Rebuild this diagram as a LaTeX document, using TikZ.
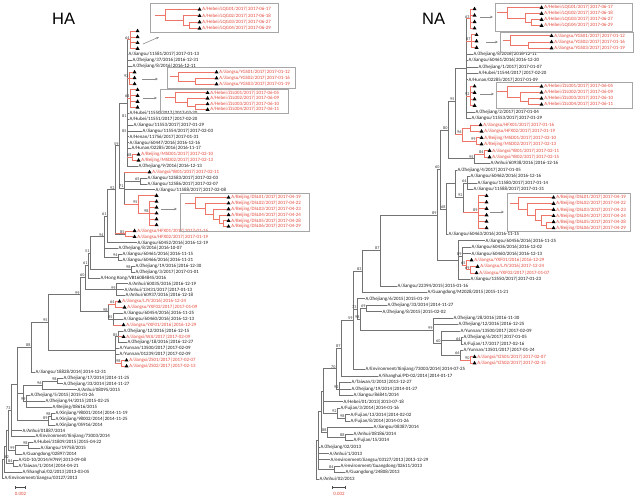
\documentclass[tikz,border=0pt]{standalone}
\usepackage{fontspec}
\usepackage{xcolor}
\usetikzlibrary{arrows.meta}
\usetikzlibrary{positioning, calc, shapes.geometric}
\newfontfamily\labfont{Carlito}
\newfontfamily\headfont{Liberation Sans}
\definecolor{hlred}{RGB}{228,72,58}
\definecolor{hlpink}{RGB}{238,118,104}
\newcommand{\labsize}{\labfont\fontsize{4.9}{5.4}\selectfont}
\newcommand{\bssize}{\labfont\fontsize{4.2}{4.6}\selectfont}
% clade point: name, x, first child, last child
\newcommand{\clade}[4]{\path let \p1=($(#3)!.5!(#4)$) in coordinate (#1) at (#2pt,\y1);}
% branches from a clade point to its children
\newcommand{\kids}[3]{\foreach \kidname in {#3}{\draw[#1] (#2) |- (\kidname);}}
\newcommand{\rkids}[2]{\foreach \kidname in {#2}{\draw[br] (#1) |- coordinate[pos=0.5] (kc) (\kidname); \draw[rbr] (kc) -- (\kidname);}}
\tikzset{
	lab/.style={font=\labsize, anchor=west, inner sep=0.5pt, text=black!90},
	rlab/.style={lab, text=hlred},
	tri/.style={regular polygon, regular polygon sides=3, fill=black, inner sep=0pt, minimum size=4.6pt, anchor=west},
	br/.style={draw=black!55, line width=0.7pt},
	rbr/.style={draw=hlpink, line width=0.8pt},
	bs/.style={font=\bssize, anchor=south east, inner sep=0.4pt, text=black!80},
	clbox/.style={draw=black!35, line width=1pt, anchor=north west, inner sep=0pt},
	arr/.style={draw=black!45, line width=0.6pt, -{Stealth[length=3pt,width=2.6pt]}},
	headtxt/.style={font=\headfont\fontsize{16.5}{18}\selectfont, anchor=west, inner sep=0pt},
	sbar/.style={draw=black!70, line width=0.6pt, {Bar[width=3pt]}-{Bar[width=3pt]}},
	sclab/.style={font=\labsize, text=hlred, inner sep=0pt}
}
\begin{document}
\begin{tikzpicture}[x=1pt, y=-1pt]
	\useasboundingbox (0,0) rectangle (635,499);
	\fill[white] (0,0) rectangle (635,499);
	
	%titles
	\node[headtxt] (haTitle) at (52,19) {HA};
	\node[headtxt] (naTitle) at (422,19) {NA};
	
	%%%%%%%%%% HA tree %%%%%%%%%%
	%HA leaves
	\node[tri] (a1) at (136,31.0) {};
	\node[tri] (a2) at (136,36.9) {};
	\node[tri] (a3) at (136,42.8) {};
	\node[tri] (a4) at (136,48.6) {};
	\node[lab] (a5) at (128,54.5) {A/Jiangsu/11581/2017|2017-01-13};
	\node[lab] (a6) at (132,60.4) {A/Zhejiang/37/2016|2016-12-31};
	\node[lab] (a7) at (132,66.3) {A/Zhejiang/8/2016|2016-12-11};
	\node[tri] (a8) at (133,72.2) {};
	\node[tri] (a9) at (133,78.0) {};
	\node[tri] (a10) at (133,83.9) {};
	\node[tri] (a11) at (136,89.8) {};
	\node[tri] (a12) at (136,95.7) {};
	\node[tri] (a13) at (136,101.6) {};
	\node[tri] (a14) at (136,107.4) {};
	\node[lab] (a15) at (129,113.3) {A/Hubei/11550/2017|2017-02-20};
	\node[lab] (a16) at (129,119.2) {A/Hubei/11551/2017|2017-02-20};
	\node[lab] (a17) at (133,125.1) {A/Jiangsu/11553/2017|2017-01-29};
	\node[lab] (a18) at (142,131.0) {A/Jiangsu/11554/2017|2017-02-03};
	\node[lab] (a19) at (129,136.8) {A/Henan/11756/2017|2017-01-31};
	\node[lab] (a20) at (129,142.7) {A/Jiangsu/60447/2016|2016-12-16};
	\node[lab] (a21) at (131,148.6) {A/Hunan/02285/2016|2016-11-17};
	\node[tri] (a22) at (137,154.5) {};
	\node[rlab, right=0.6pt of a22] (ta22) {A/Beijing/MSD01/2017|2017-02-10};
	\node[tri] (a23) at (137,160.4) {};
	\node[rlab, right=0.6pt of a23] (ta23) {A/Beijing/MSD02/2017|2017-02-13};
	\node[lab] (a24) at (138,166.2) {A/Zhejiang/9/2016|2016-12-13};
	\node[tri] (a25) at (148,172.1) {};
	\node[rlab, right=0.6pt of a25] (ta25) {A/Jiangxi/YB01/2017|2017-02-11};
	\node[lab] (a26) at (147,178.0) {A/Jiangsu/12583/2017|2017-02-03};
	\node[lab] (a27) at (147,183.9) {A/Jiangsu/12586/2017|2017-02-07};
	\node[lab] (a28) at (155,189.8) {A/Jiangsu/11588/2017|2017-02-08};
	\node[tri] (a29) at (155,195.6) {};
	\node[tri] (a30) at (155,201.5) {};
	\node[tri] (a31) at (155,207.4) {};
	\node[tri] (a32) at (155,213.3) {};
	\node[tri] (a33) at (155,219.2) {};
	\node[tri] (a34) at (155,225.0) {};
	\node[tri] (a35) at (133,230.9) {};
	\node[rlab, right=0.6pt of a35] (ta35) {A/Jiangsu/HFX01/2017|2017-01-16};
	\node[tri] (a36) at (133,236.8) {};
	\node[rlab, right=0.6pt of a36] (ta36) {A/Jiangsu/HFX02/2017|2017-01-19};
	\node[lab] (a37) at (137,242.7) {A/Jiangsu/60452/2016|2016-12-19};
	\node[lab] (a38) at (118,248.6) {A/Zhejiang/8/2016|2016-10-07};
	\node[lab] (a39) at (122,254.4) {A/Jiangsu/60461/2016|2016-11-15};
	\node[lab] (a40) at (122,260.3) {A/Jiangsu/60466/2016|2016-11-21};
	\node[lab] (a41) at (135,266.2) {A/Zhejiang/19/2016|2016-12-30};
	\node[lab] (a42) at (135,272.1) {A/Zhejiang/3/2017|2017-01-01};
	\node[lab] (a43) at (100,278.0) {A/Hong Kong/VB16084845/2016};
	\node[lab] (a44) at (128,283.8) {A/Anhui/60035/2016|2016-12-19};
	\node[lab] (a45) at (124,289.7) {A/Anhui/13431/2017|2017-01-13};
	\node[lab] (a46) at (125,295.6) {A/Anhui/60937/2016|2016-12-18};
	\node[tri] (a47) at (118,301.5) {};
	\node[rlab, right=0.6pt of a47] (ta47) {A/Jiangsu/LJY/2016|2016-12-24};
	\node[tri] (a48) at (123,307.4) {};
	\node[rlab, right=0.6pt of a48] (ta48) {A/Jiangsu/YXF02/2017|2017-01-09};
	\node[lab] (a49) at (123,313.2) {A/Jiangsu/60454/2016|2016-11-25};
	\node[lab] (a50) at (123,319.1) {A/Jiangsu/60460/2016|2016-12-13};
	\node[tri] (a51) at (122,325.0) {};
	\node[rlab, right=0.6pt of a51] (ta51) {A/Jiangsu/YXF01/2016|2016-12-29};
	\node[lab] (a52) at (123,330.9) {A/Zhejiang/12/2016|2016-12-15};
	\node[tri] (a53) at (122,336.8) {};
	\node[rlab, right=0.6pt of a53] (ta53) {A/Jiangxi/WJJ/2017|2017-02-09};
	\node[lab] (a54) at (127,342.6) {A/Zhejiang/18/2016|2016-12-27};
	\node[lab] (a55) at (119,348.5) {A/Yunnan/13500/2017|2017-02-09};
	\node[lab] (a56) at (119,354.4) {A/Yunnan/01239/2017|2017-02-09};
	\node[tri] (a57) at (125,360.3) {};
	\node[rlab, right=0.6pt of a57] (ta57) {A/Jiangxi/ZS01/2017|2017-02-07};
	\node[tri] (a58) at (125,366.2) {};
	\node[rlab, right=0.6pt of a58] (ta58) {A/Jiangxi/ZS02/2017|2017-02-13};
	\node[lab] (a59) at (35,372.0) {A/Jiangsu/18828/2014|2014-12-31};
	\node[lab] (a60) at (63,377.9) {A/Zhejiang/17/2014|2014-11-25};
	\node[lab] (a61) at (63,383.8) {A/Zhejiang/33/2014|2014-11-27};
	\node[lab] (a62) at (77,389.7) {A/Anhui/08095/2015};
	\node[lab] (a63) at (30,395.6) {A/Zhejiang/5/2015|2015-01-26};
	\node[lab] (a64) at (45,401.4) {A/Zhejiang/H/2015|2015-02-25};
	\node[lab] (a65) at (52,407.3) {A/Beijing/08616/2015};
	\node[lab] (a66) at (55,413.2) {A/Xinjiang/98001/2014|2014-11-19};
	\node[lab] (a67) at (55,419.1) {A/Xinjiang/98002/2014|2014-11-25};
	\node[lab] (a68) at (55,425.0) {A/Xinjiang/05916/2014};
	\node[lab] (a69) at (22,430.8) {A/Anhui/01887/2014};
	\node[lab] (a70) at (35,436.7) {A/Environment/Xinjiang/73003/2014};
	\node[lab] (a71) at (33,442.6) {A/Hubei/31809/2015|2015-04-22};
	\node[lab] (a72) at (40,448.5) {A/Jiangsu/19758/2015};
	\node[lab] (a73) at (22,454.4) {A/Guangdong/02897/2014};
	\node[lab] (a74) at (18,460.2) {A/GD-10/2014/H7N9|2013-09-08};
	\node[lab] (a75) at (18,466.1) {A/Taiwan/1/2014|2014-04-21};
	\node[lab] (a76) at (22,472.0) {A/Shanghai/02/2013|2013-03-05};
	\node[lab] (a77) at (4,477.9) {A/Environment/Jiangsu/03127/2013};
	
	%HA clades
	\clade{aLQG}{130}{a1}{a4}
	\clade{aYGS}{129}{a8}{a10}
	\clade{aZJL}{130}{a11}{a14}
	\clade{aMSD}{132}{a22}{a23}
	\clade{aSpine}{127}{aLQG}{a24}
	\clade{aP65}{140}{a26}{a27}
	\clade{aDSLb}{149}{a30}{a34}
	\clade{aDSL}{138}{a29}{aDSLb}
	\clade{aP71}{124}{a25}{aDSL}
	\clade{aP59}{119}{aSpine}{aP71}
	\clade{aHFX}{125}{a35}{a36}
	\clade{aP92}{115}{aP59}{aHFX}
	\clade{aP61}{107}{aP92}{a37}
	\clade{aP94b}{118}{a39}{a40}
	\clade{aP94}{104}{aP61}{aP94b}
	\clade{aP98}{131}{a41}{a42}
	\clade{aP51}{90}{aP94}{aP98}
	\clade{aP61b}{88}{aP51}{a43}
	\clade{aAnh}{116}{a44}{a46}
	\clade{aP60}{85}{aP61b}{aAnh}
	\clade{aLJY}{115}{a47}{a48}
	\clade{aP85}{113}{a49}{a51}
	\clade{aP98b}{108}{aLJY}{aP85}
	\clade{aP99}{80}{aP60}{aP98b}
	\clade{aZS}{121}{a57}{a58}
	\clade{aZ18}{118}{a52}{a54}
	\clade{aZY}{115}{aZ18}{aZS}
	\clade{aP95}{48}{aP99}{aZY}
	\clade{aP88}{31}{aP95}{a59}
	\clade{aZ17}{57}{a60}{a61}
	\clade{aP96}{42}{aZ17}{a62}
	\clade{aP99c}{26}{a63}{a65}
	\clade{aG1}{23}{aP96}{aP99c}
	\clade{aX1}{51}{a66}{a67}
	\clade{aX2}{48}{aX1}{a68}
	\clade{aG2}{17}{aP88}{aX2}
	\clade{aP73}{11}{aG2}{a70}
	\clade{aH1}{28}{a71}{a72}
	\clade{aP99d}{15}{aH1}{a73}
	\clade{aG3}{8}{aP73}{aP99d}
	\clade{aP84}{13}{a74}{a75}
	\clade{aG4}{6}{aG3}{aP84}
	\clade{aP82}{4}{aG4}{a76}
	\clade{aRoot}{2}{aP82}{a77}
	
	%HA branches
	\kids{rbr}{aLQG}{a1,a2,a3,a4}
	\kids{rbr}{aYGS}{a8,a9,a10}
	\kids{rbr}{aZJL}{a11,a12,a13,a14}
	\kids{rbr}{aMSD}{a22,a23}
	\kids{br}{aSpine}{a5,a6,a7,a15,a16,a17,a18,a19,a20,a21,a24}
	\rkids{aSpine}{aLQG,aYGS,aZJL,aMSD}
	\kids{br}{aP65}{a26,a27}
	\kids{rbr}{aDSLb}{a30,a31,a32,a33,a34}
	\kids{rbr}{aDSL}{a29,aDSLb}
	\kids{br}{aP71}{aP65,a28}
	\rkids{aP71}{a25,aDSL}
	\kids{br}{aP59}{aSpine,aP71}
	\kids{rbr}{aHFX}{a35,a36}
	\kids{br}{aP92}{aP59}
	\rkids{aP92}{aHFX}
	\kids{br}{aP61}{aP92,a37}
	\kids{br}{aP94b}{a39,a40}
	\kids{br}{aP94}{aP61,a38,aP94b}
	\kids{br}{aP98}{a41,a42}
	\kids{br}{aP51}{aP94,aP98}
	\kids{br}{aP61b}{aP51,a43}
	\kids{br}{aAnh}{a44,a45,a46}
	\kids{br}{aP60}{aP61b,aAnh}
	\kids{rbr}{aLJY}{a47,a48}
	\kids{br}{aP85}{a49,a50}
	\rkids{aP85}{a51}
	\kids{br}{aP98b}{aP85}
	\rkids{aP98b}{aLJY}
	\kids{br}{aP99}{aP60,aP98b}
	\kids{rbr}{aZS}{a57,a58}
	\kids{br}{aZ18}{a52,a54}
	\rkids{aZ18}{a53}
	\kids{br}{aZY}{aZ18,a55,a56}
	\rkids{aZY}{aZS}
	\kids{br}{aP95}{aP99,aZY}
	\kids{br}{aP88}{aP95,a59}
	\kids{br}{aZ17}{a60,a61}
	\kids{br}{aP96}{aZ17,a62}
	\kids{br}{aP99c}{a63,a64,a65}
	\kids{br}{aG1}{aP96,aP99c}
	\kids{br}{aX1}{a66,a67}
	\kids{br}{aX2}{aX1,a68}
	\kids{br}{aG2}{aP88,aG1,aX2}
	\kids{br}{aP73}{aG2,a69,a70}
	\kids{br}{aH1}{a71,a72}
	\kids{br}{aP99d}{aH1,a73}
	\kids{br}{aG3}{aP73,aP99d}
	\kids{br}{aP84}{a74,a75}
	\kids{br}{aG4}{aG3,aP84}
	\kids{br}{aP82}{aG4,a76}
	\kids{br}{aRoot}{aP82,a77}
	
	%HA bootstrap values
	\node[bs] (baLQG) at (aLQG) {64};
	\node[bs] (baYGS) at (aYGS) {92};
	\node[bs] (baZJL) at (aZJL) {64};
	\node[bs] (baMSD) at (aMSD) {68};
	\node[bs] (baS1) at (127,118) {81};
	\node[bs] (baS2) at (127,133) {85};
	\node[bs] (baP65) at (aP65) {65};
	\node[bs] (baDSLb) at (aDSLb) {98};
	\node[bs] (baDSL) at (aDSL) {95};
	\node[bs] (baP71) at (aP71) {71};
	\node[bs] (baP59) at (aP59) {59};
	\node[bs] (baHFX) at (aHFX) {85};
	\node[bs] (baP92) at (aP92) {92};
	\node[bs] (baP61) at (aP61) {61};
	\node[bs] (baP94b) at (aP94b) {94};
	\node[bs] (baP94) at (aP94) {94};
	\node[bs] (baP98) at (aP98) {98};
	\node[bs] (baP51) at (aP51) {51};
	\node[bs] (baP61b) at (aP61b) {61};
	\node[bs] (baAnh) at (aAnh) {99};
	\node[bs] (baP60) at (aP60) {60};
	\node[bs] (baLJY) at (aLJY) {64};
	\node[bs] (baP85) at (aP85) {85};
	\node[bs] (baP98b) at (aP98b) {98};
	\node[bs] (baP99) at (aP99) {99};
	\node[bs] (baZS) at (aZS) {98};
	\node[bs] (baZ18) at (aZ18) {85};
	\node[bs] (baP95) at (aP95) {95};
	\node[bs] (baP88) at (aP88) {88};
	\node[bs] (baZ17) at (aZ17) {98};
	\node[bs] (baP96) at (aP96) {96};
	\node[bs] (baP99c) at (aP99c) {99};
	\node[bs] (baX1) at (aX1) {98};
	\node[bs] (baX2) at (aX2) {89};
	\node[bs] (baP73) at (aP73) {73};
	\node[bs] (baH1) at (aH1) {98};
	\node[bs] (baP99d) at (aP99d) {99};
	\node[bs] (baP84) at (aP84) {84};
	\node[bs, anchor=south west] (baP82) at (aP82) {82};
	
	%HA boxes: LQG
	\node[clbox, minimum width=128pt, minimum height=29pt] (boxaLQG) at (150,3) {};
	\node[tri] (aq1) at (198,9.5) {};
	\node[rlab, right=0.6pt of aq1] (taq1) {A/Hebei/LQG01/2017|2017-06-17};
	\node[tri] (aq2) at (198,15.8) {};
	\node[rlab, right=0.6pt of aq2] (taq2) {A/Hebei/LQG02/2017|2017-06-18};
	\node[tri] (aq3) at (198,22.1) {};
	\node[rlab, right=0.6pt of aq3] (taq3) {A/Hebei/LQG03/2017|2017-06-27};
	\node[tri] (aq4) at (198,28.4) {};
	\node[rlab, right=0.6pt of aq4] (taq4) {A/Hebei/LQG04/2017|2017-06-29};
	\clade{aqk2}{189}{aq3}{aq4}
	\clade{aqk1}{183}{aq2}{aqk2}
	\clade{aq0}{165}{aq1}{aqk1}
	\coordinate (aqs) at ([xshift=-10pt]aq0);
	\kids{rbr}{aqk2}{aq3,aq4}
	\kids{rbr}{aqk1}{aq2,aqk2}
	\kids{rbr}{aq0}{aq1,aqk1}
	\draw[rbr] (aqs) -- (aq0);
	
	%HA boxes: YGS
	\node[clbox, minimum width=128pt, minimum height=21pt] (boxaYGS) at (167,67) {};
	\node[tri] (ay1) at (215,72.2) {};
	\node[rlab, right=0.6pt of ay1] (tay1) {A/Jiangsu/YGS01/2017|2017-01-12};
	\node[tri] (ay2) at (215,78.2) {};
	\node[rlab, right=0.6pt of ay2] (tay2) {A/Jiangsu/YGS02/2017|2017-01-16};
	\node[tri] (ay3) at (215,84.2) {};
	\node[rlab, right=0.6pt of ay3] (tay3) {A/Jiangsu/YGS03/2017|2017-01-19};
	\clade{ayk}{195}{ay2}{ay3}
	\clade{ay0}{178}{ay1}{ayk}
	\coordinate (ays) at ([xshift=-8pt]ay0);
	\kids{rbr}{ayk}{ay2,ay3}
	\kids{rbr}{ay0}{ay1,ayk}
	\draw[rbr] (ays) -- (ay0);
	
	%HA boxes: ZJL
	\node[clbox, minimum width=128pt, minimum height=24pt] (boxaZJL) at (160,89) {};
	\node[tri] (az1) at (206,92.8) {};
	\node[rlab, right=0.6pt of az1] (taz1) {A/Hebei/ZJL001/2017|2017-06-05};
	\node[tri] (az2) at (206,98.4) {};
	\node[rlab, right=0.6pt of az2] (taz2) {A/Hebei/ZJL002/2017|2017-06-09};
	\node[tri] (az3) at (206,104.0) {};
	\node[rlab, right=0.6pt of az3] (taz3) {A/Hebei/ZJL003/2017|2017-06-10};
	\node[tri] (az4) at (206,109.6) {};
	\node[rlab, right=0.6pt of az4] (taz4) {A/Hebei/ZJL004/2017|2017-06-11};
	\clade{azk2}{195}{az3}{az4}
	\clade{azk1}{187}{az2}{azk2}
	\clade{az0}{175}{az1}{azk1}
	\coordinate (azs) at ([xshift=-10pt]az0);
	\kids{rbr}{azk2}{az3,az4}
	\kids{rbr}{azk1}{az2,azk2}
	\kids{rbr}{az0}{az1,azk1}
	\draw[rbr] (azs) -- (az0);
	
	%HA boxes: DSL
	\node[clbox, minimum width=129pt, minimum height=38pt] (boxaDSL) at (180,193) {};
	\node[tri] (ad1) at (227,197.5) {};
	\node[rlab, right=0.6pt of ad1] (tad1) {A/Beijing/DSL01/2017|2017-04-19};
	\node[tri] (ad2) at (227,203.3) {};
	\node[rlab, right=0.6pt of ad2] (tad2) {A/Beijing/DSL02/2017|2017-04-22};
	\node[tri] (ad3) at (227,209.1) {};
	\node[rlab, right=0.6pt of ad3] (tad3) {A/Beijing/DSL03/2017|2017-04-23};
	\node[tri] (ad4) at (227,214.9) {};
	\node[rlab, right=0.6pt of ad4] (tad4) {A/Beijing/DSL04/2017|2017-04-24};
	\node[tri] (ad5) at (227,220.7) {};
	\node[rlab, right=0.6pt of ad5] (tad5) {A/Beijing/DSL05/2017|2017-04-28};
	\node[tri] (ad6) at (227,226.5) {};
	\node[rlab, right=0.6pt of ad6] (tad6) {A/Beijing/DSL06/2017|2017-04-29};
	\clade{ad04}{223}{ad5}{ad6}
	\clade{ad03}{219}{ad4}{ad04}
	\clade{ad02}{213}{ad3}{ad03}
	\clade{ad01}{205}{ad2}{ad02}
	\clade{ad0}{195}{ad1}{ad01}
	\coordinate (ads) at ([xshift=-10pt]ad0);
	\kids{rbr}{ad04}{ad5,ad6}
	\kids{rbr}{ad03}{ad4,ad04}
	\kids{rbr}{ad02}{ad3,ad03}
	\kids{rbr}{ad01}{ad2,ad02}
	\kids{rbr}{ad0}{ad1,ad01}
	\draw[rbr] (ads) -- (ad0);
	
	%HA arrows to boxes
	\coordinate (qaLQG1) at (143,44);
	\coordinate (qaLQG2) at (159,37);
	\draw[arr] (qaLQG1) -- (qaLQG2);
	\coordinate (qaYGS1) at (142,79);
	\coordinate (qaYGS2) at (158,79);
	\draw[arr] (qaYGS1) -- (qaYGS2);
	\coordinate (qaZJL1) at (143,98);
	\coordinate (qaZJL2) at (157,98);
	\draw[arr] (qaZJL1) -- (qaZJL2);
	\coordinate (qaDSL1) at (161,209);
	\coordinate (qaDSL2) at (177,209);
	\draw[arr] (qaDSL1) -- (qaDSL2);
	
	%HA scale bar
	\coordinate (asb1) at (15,487);
	\coordinate (asb2) at (26,487);
	\draw[sbar] (asb1) -- (asb2);
	\node[sclab] (asbt) at (20.5,494) {0.002};
	
	%%%%%%%%%% NA tree %%%%%%%%%%
	%NA leaves
	\node[tri] (n1) at (473,9.0) {};
	\node[tri] (n2) at (473,15.4) {};
	\node[tri] (n3) at (473,21.9) {};
	\node[tri] (n4) at (473,28.3) {};
	\node[tri] (n5) at (475,34.8) {};
	\node[tri] (n6) at (475,41.2) {};
	\node[tri] (n7) at (475,47.6) {};
	\node[lab] (n8) at (473,54.1) {A/Zhejiang/8/2016|2016-12-11};
	\node[lab] (n9) at (468,60.5) {A/Jiangsu/60461/2016|2016-12-20};
	\node[lab] (n10) at (478,67.0) {A/Zhejiang/1/2017|2017-01-07};
	\node[lab] (n11) at (478,73.4) {A/Hubei/11544/2017|2017-02-20};
	\node[lab] (n12) at (468,79.8) {A/Hunan/02285/2017|2017-01-09};
	\node[tri] (n13) at (473,86.3) {};
	\node[tri] (n14) at (473,92.7) {};
	\node[tri] (n15) at (473,99.2) {};
	\node[tri] (n16) at (473,105.6) {};
	\node[lab] (n17) at (475,112.0) {A/Zhejiang/2/2017|2017-01-04};
	\node[lab] (n18) at (471,118.5) {A/Jiangsu/11553/2017|2017-01-29};
	\node[tri] (n19) at (479,124.9) {};
	\node[rlab, right=0.6pt of n19] (tn19) {A/Jiangsu/HFX01/2017|2017-01-16};
	\node[tri] (n20) at (480,131.4) {};
	\node[rlab, right=0.6pt of n20] (tn20) {A/Jiangsu/HFX02/2017|2017-01-19};
	\node[tri] (n21) at (480,137.8) {};
	\node[rlab, right=0.6pt of n21] (tn21) {A/Beijing/MSD01/2017|2017-02-10};
	\node[tri] (n22) at (480,144.2) {};
	\node[rlab, right=0.6pt of n22] (tn22) {A/Beijing/MSD02/2017|2017-02-13};
	\node[tri] (n23) at (488,150.7) {};
	\node[rlab, right=0.6pt of n23] (tn23) {A/Jiangxi/YB01/2017|2017-02-11};
	\node[tri] (n24) at (488,157.1) {};
	\node[rlab, right=0.6pt of n24] (tn24) {A/Jiangxi/YB02/2017|2017-02-15};
	\node[lab] (n25) at (490,163.6) {A/Anhui/60938/2016|2016-12-16};
	\node[lab] (n26) at (457,170.0) {A/Zhejiang/4/2017|2017-01-05};
	\node[lab] (n27) at (470,176.4) {A/Jiangsu/60462/2016|2016-12-16};
	\node[lab] (n28) at (477,182.9) {A/Jiangsu/11580/2017|2017-01-14};
	\node[lab] (n29) at (473,189.3) {A/Jiangsu/11588/2017|2017-01-31};
	\node[tri] (n30) at (485,195.8) {};
	\node[tri] (n31) at (485,202.2) {};
	\node[tri] (n32) at (485,208.6) {};
	\node[tri] (n33) at (485,215.1) {};
	\node[tri] (n34) at (485,221.5) {};
	\node[tri] (n35) at (485,228.0) {};
	\node[lab] (n36) at (448,234.4) {A/Jiangsu/60463/2016|2016-11-15};
	\node[lab] (n37) at (485,240.8) {A/Jiangsu/60456/2016|2016-11-25};
	\node[lab] (n38) at (471,247.3) {A/Jiangsu/60436/2016|2016-12-02};
	\node[lab] (n39) at (471,253.7) {A/Jiangsu/60460/2016|2016-12-13};
	\node[tri] (n40) at (470,260.2) {};
	\node[rlab, right=0.6pt of n40] (tn40) {A/Jiangsu/YXF01/2016|2016-12-29};
	\node[tri] (n41) at (476,266.6) {};
	\node[rlab, right=0.6pt of n41] (tn41) {A/Jiangsu/LJY/2016|2017-12-24};
	\node[tri] (n42) at (475,273.0) {};
	\node[rlab, right=0.6pt of n42] (tn42) {A/Jiangsu/YXF02/2017|2017-01-07};
	\node[lab] (n43) at (470,279.5) {A/Jiangsu/13550/2017|2017-01-23};
	\node[lab] (n44) at (397,285.9) {A/Jiangsu/22394/2015|2015-01-16};
	\node[lab] (n45) at (427,292.4) {A/Guangdong/M2028/2015|2015-11-21};
	\node[lab] (n46) at (365,298.8) {A/Zhejiang/6/2015|2015-01-19};
	\node[lab] (n47) at (387,305.2) {A/Zhejiang/33/2014|2014-11-27};
	\node[lab] (n48) at (382,311.7) {A/Zhejiang/8/2015|2015-02-02};
	\node[lab] (n49) at (453,318.1) {A/Zhejiang/28/2016|2016-11-30};
	\node[lab] (n50) at (458,324.6) {A/Zhejiang/12/2016|2016-12-25};
	\node[lab] (n51) at (460,331.0) {A/Yunnan/13500/2017|2017-02-09};
	\node[lab] (n52) at (463,337.4) {A/Zhejiang/6/2017|2017-01-05};
	\node[lab] (n53) at (463,343.9) {A/Fujian/17/2017|2017-02-16};
	\node[lab] (n54) at (463,350.3) {A/Yunnan/13501/2017|2017-01-24};
	\node[tri] (n55) at (473,356.8) {};
	\node[rlab, right=0.6pt of n55] (tn55) {A/Jiangxi/YZS01/2017|2017-02-07};
	\node[tri] (n56) at (473,363.2) {};
	\node[rlab, right=0.6pt of n56] (tn56) {A/Jiangxi/YZS02/2017|2017-02-15};
	\node[lab] (n57) at (365,369.6) {A/Environment/Xinjiang/73003/2014|2014-07-25};
	\node[lab] (n58) at (378,376.1) {A/Shanghai/PD-02/2014|2014-01-17};
	\node[lab] (n59) at (351,382.5) {A/Taiwan/3/2013|2013-12-27};
	\node[lab] (n60) at (351,389.0) {A/Zhejiang/19/2014|2014-01-27};
	\node[lab] (n61) at (353,395.4) {A/Jiangsu/86841/2014};
	\node[lab] (n62) at (343,401.8) {A/Hebei/01/2013|2013-07-18};
	\node[lab] (n63) at (340,408.3) {A/Fujian/3/2014|2014-01-16};
	\node[lab] (n64) at (350,414.7) {A/Fujian/13/2014|2014-02-02};
	\node[lab] (n65) at (350,421.2) {A/Fujian/8/2014|2014-01-26};
	\node[lab] (n66) at (373,427.6) {A/Jiangsu/08387/2014};
	\node[lab] (n67) at (353,434.0) {A/Anhui/08186/2014};
	\node[lab] (n68) at (353,440.5) {A/Fujian/15/2014};
	\node[lab] (n69) at (320,446.9) {A/Zhejiang/02/2013};
	\node[lab] (n70) at (329,453.4) {A/Anhui/1/2013};
	\node[lab] (n71) at (330,459.8) {A/environment/Jiangsu/03127/2013|2013-12-29};
	\node[lab] (n72) at (340,466.2) {A/environment/Guangdong/02611/2013};
	\node[lab] (n73) at (345,472.7) {A/Guangdong/24808/2013};
	\node[lab] (n74) at (319,479.1) {A/Anhui/02/2013};
	
	%NA clades
	\clade{nLQG}{470}{n1}{n4}
	\clade{nYGS}{471}{n5}{n7}
	\clade{nZJL}{470}{n13}{n16}
	\clade{nSpine}{466}{nLQG}{n18}
	\clade{nHFX}{470}{n19}{n20}
	\clade{nMSD}{476}{n21}{n22}
	\clade{nR96}{462}{nHFX}{nMSD}
	\clade{nP95}{455}{nSpine}{nR96}
	\clade{nYB}{484}{n23}{n24}
	\clade{nP95b}{474}{nYB}{n25}
	\clade{nP80}{448}{nP95}{nP95b}
	\clade{nP64}{467}{n27}{n29}
	\clade{nDSL}{478}{n30}{n35}
	\clade{nP92}{463}{nP64}{nDSL}
	\clade{nG1}{455}{n26}{nP92}
	\clade{nP68}{446}{nG1}{n36}
	\clade{nP60}{440}{nP80}{nP68}
	\clade{nY69}{470}{n41}{n42}
	\clade{nY65}{466}{n40}{nY69}
	\clade{nP89b}{462}{n38}{nY65}
	\clade{nJ}{458}{n37}{n43}
	\clade{nP89}{437}{nP60}{nJ}
	\clade{nP87}{380}{nP89}{n44}
	\clade{nP83}{362}{nP87}{n45}
	\clade{nZS}{470}{n55}{n56}
	\clade{nF}{461}{n52}{n53}
	\clade{nS}{460}{n54}{nZS}
	\clade{nY4}{441}{n51}{nS}
	\clade{nQ}{433}{n49}{nY4}
	\clade{nZ2}{366}{n47}{n48}
	\clade{nQ2}{360}{nZ2}{nQ}
	\clade{nZ}{357}{n46}{nQ2}
	\clade{nP59}{353}{nP83}{n57}
	\clade{nP87b}{341}{nP59}{n58}
	\clade{nT}{339}{n59}{n61}
	\clade{nP70}{336}{nP87b}{nT}
	\clade{nFj2}{345}{n64}{n65}
	\clade{nFj}{337}{n63}{nFj2}
	\clade{nG2}{323}{nP70}{nFj}
	\clade{nA}{345}{n67}{n68}
	\clade{nP88}{327}{n66}{nA}
	\clade{nG3}{321}{nG2}{nP88}
	\clade{nG}{334}{n72}{n73}
	\clade{nG4}{318}{nG3}{nG}
	\clade{nRoot}{316}{nG4}{n74}
	
	%NA branches
	\kids{rbr}{nLQG}{n1,n2,n3,n4}
	\kids{rbr}{nYGS}{n5,n6,n7}
	\kids{rbr}{nZJL}{n13,n14,n15,n16}
	\kids{br}{nSpine}{n8,n9,n10,n11,n12,n17,n18}
	\rkids{nSpine}{nLQG,nYGS,nZJL}
	\kids{rbr}{nHFX}{n19,n20}
	\kids{rbr}{nMSD}{n21,n22}
	\kids{rbr}{nR96}{nHFX,nMSD}
	\kids{br}{nP95}{nSpine}
	\rkids{nP95}{nR96}
	\kids{rbr}{nYB}{n23,n24}
	\kids{br}{nP95b}{n25}
	\rkids{nP95b}{nYB}
	\kids{br}{nP80}{nP95,nP95b}
	\kids{br}{nP64}{n27,n28,n29}
	\kids{rbr}{nDSL}{n30,n31,n32,n33,n34,n35}
	\kids{br}{nP92}{nP64}
	\rkids{nP92}{nDSL}
	\kids{br}{nG1}{n26,nP92}
	\kids{br}{nP68}{nG1,n36}
	\kids{br}{nP60}{nP80,nP68}
	\kids{rbr}{nY69}{n41,n42}
	\kids{rbr}{nY65}{n40,nY69}
	\kids{br}{nP89b}{n38,n39}
	\rkids{nP89b}{nY65}
	\kids{br}{nJ}{n37,nP89b,n43}
	\kids{br}{nP89}{nP60,nJ}
	\kids{br}{nP87}{nP89,n44}
	\kids{br}{nP83}{nP87,n45}
	\kids{rbr}{nZS}{n55,n56}
	\kids{br}{nF}{n52,n53}
	\kids{br}{nS}{n54}
	\rkids{nS}{nZS}
	\kids{br}{nY4}{n51,nF,nS}
	\kids{br}{nQ}{n49,n50,nY4}
	\kids{br}{nZ2}{n47,n48}
	\kids{br}{nQ2}{nZ2,nQ}
	\kids{br}{nZ}{n46,nQ2}
	\kids{br}{nP59}{nP83,nZ,n57}
	\kids{br}{nP87b}{nP59,n58}
	\kids{br}{nT}{n59,n60,n61}
	\kids{br}{nP70}{nP87b,nT}
	\kids{br}{nFj2}{n64,n65}
	\kids{br}{nFj}{n63,nFj2}
	\kids{br}{nG2}{nP70,n62,nFj}
	\kids{br}{nA}{n67,n68}
	\kids{br}{nP88}{n66,nA}
	\kids{br}{nG3}{nG2,nP88}
	\kids{br}{nG}{n72,n73}
	\kids{br}{nG4}{nG3,n69,n70,n71,nG}
	\kids{br}{nRoot}{nG4,n74}
	
	%NA bootstrap values
	\node[bs] (bnLQG) at (nLQG) {63};
	\node[bs] (bnYGS) at (nYGS) {87};
	\node[bs] (bnZJL) at (nZJL) {92};
	\node[bs] (bnMSD) at (nMSD) {99};
	\node[bs] (bnR96) at (nR96) {96};
	\node[bs] (bnP95) at (nP95) {95};
	\node[bs] (bnYB) at (nYB) {84};
	\node[bs] (bnP95b) at (nP95b) {95};
	\node[bs] (bnP80) at (nP80) {80};
	\node[bs] (bnP64) at (nP64) {64};
	\node[bs] (bnDSL) at (nDSL) {89};
	\node[bs] (bnP92) at (nP92) {92};
	\node[bs] (bnP68) at (nP68) {68};
	\node[bs] (bnP60) at (nP60) {60};
	\node[bs] (bnY69) at (nY69) {69};
	\node[bs] (bnY65) at (nY65) {65};
	\node[bs] (bnP89b) at (nP89b) {89};
	\node[bs] (bnP89) at (nP89) {89};
	\node[bs] (bnP87) at (nP87) {87};
	\node[bs] (bnP83) at (nP83) {83};
	\node[bs] (bnZS) at (nZS) {90};
	\node[bs] (bnF) at (nF) {64};
	\node[bs] (bnS) at (nS) {66};
	\node[bs] (bnY4) at (nY4) {60};
	\node[bs] (bnQ) at (nQ) {99};
	\node[bs] (bnZ2) at (nZ2) {69};
	\node[bs] (bnQ2) at (nQ2) {98};
	\node[bs] (bnZ) at (nZ) {73};
	\node[bs] (bnP59) at (nP59) {59};
	\node[bs] (bnP87b) at (nP87b) {87};
	\node[bs] (bnT) at (nT) {92};
	\node[bs] (bnP70) at (nP70) {70};
	\node[bs] (bnFj2) at (nFj2) {98};
	\node[bs] (bnFj) at (nFj) {92};
	\node[bs] (bnA) at (nA) {88};
	\node[bs] (bnP88) at (nP88) {88};
	\node[bs] (bnG) at (nG) {84};
	
	%NA boxes: LQG
	\node[clbox, minimum width=137pt, minimum height=28pt] (boxnLQG) at (495,3) {};
	\node[tri] (nq1) at (540,7.6) {};
	\node[rlab, right=0.6pt of nq1] (tnq1) {A/Hebei/LQG01/2017|2017-06-17};
	\node[tri] (nq2) at (540,13.6) {};
	\node[rlab, right=0.6pt of nq2] (tnq2) {A/Hebei/LQG02/2017|2017-06-18};
	\node[tri] (nq3) at (540,19.6) {};
	\node[rlab, right=0.6pt of nq3] (tnq3) {A/Hebei/LQG03/2017|2017-06-27};
	\node[tri] (nq4) at (540,25.6) {};
	\node[rlab, right=0.6pt of nq4] (tnq4) {A/Hebei/LQG04/2017|2017-06-29};
	\clade{nqk2}{531}{nq3}{nq4}
	\clade{nqk1}{525}{nq2}{nqk2}
	\clade{nq0}{507}{nq1}{nqk1}
	\coordinate (nqs) at ([xshift=-10pt]nq0);
	\kids{rbr}{nqk2}{nq3,nq4}
	\kids{rbr}{nqk1}{nq2,nqk2}
	\kids{rbr}{nq0}{nq1,nqk1}
	\draw[rbr] (nqs) -- (nq0);
	
	%NA boxes: YGS
	\node[clbox, minimum width=133pt, minimum height=20pt] (boxnYGS) at (500,32) {};
	\node[tri] (ny1) at (550,35.8) {};
	\node[rlab, right=0.6pt of ny1] (tny1) {A/Jiangsu/YGS01/2017|2017-01-12};
	\node[tri] (ny2) at (550,42.0) {};
	\node[rlab, right=0.6pt of ny2] (tny2) {A/Jiangsu/YGS02/2017|2017-01-16};
	\node[tri] (ny3) at (550,48.2) {};
	\node[rlab, right=0.6pt of ny3] (tny3) {A/Jiangsu/YGS03/2017|2017-01-19};
	\clade{nyk}{528}{ny2}{ny3}
	\clade{ny0}{510}{ny1}{nyk}
	\coordinate (nys) at ([xshift=-7pt]ny0);
	\kids{rbr}{nyk}{ny2,ny3}
	\kids{rbr}{ny0}{ny1,nyk}
	\draw[rbr] (nys) -- (ny0);
	
	%NA boxes: ZJL
	\node[clbox, minimum width=136pt, minimum height=26pt] (boxnZJL) at (496,82) {};
	\node[tri] (nz1) at (540,86.5) {};
	\node[rlab, right=0.6pt of nz1] (tnz1) {A/Hebei/ZJL001/2017|2017-06-05};
	\node[tri] (nz2) at (540,92.5) {};
	\node[rlab, right=0.6pt of nz2] (tnz2) {A/Hebei/ZJL002/2017|2017-06-09};
	\node[tri] (nz3) at (540,98.5) {};
	\node[rlab, right=0.6pt of nz3] (tnz3) {A/Hebei/ZJL003/2017|2017-06-10};
	\node[tri] (nz4) at (540,104.5) {};
	\node[rlab, right=0.6pt of nz4] (tnz4) {A/Hebei/ZJL004/2017|2017-06-11};
	\clade{nzk2}{528}{nz3}{nz4}
	\clade{nzk1}{520}{nz2}{nzk2}
	\clade{nz0}{507}{nz1}{nzk1}
	\coordinate (nzs) at ([xshift=-10pt]nz0);
	\kids{rbr}{nzk2}{nz3,nz4}
	\kids{rbr}{nzk1}{nz2,nzk2}
	\kids{rbr}{nz0}{nz1,nzk1}
	\draw[rbr] (nzs) -- (nz0);
	
	%NA boxes: DSL
	\node[clbox, minimum width=123pt, minimum height=38pt] (boxnDSL) at (507,193) {};
	\node[tri] (nd1) at (552,197.5) {};
	\node[rlab, right=0.6pt of nd1] (tnd1) {A/Beijing/DSL01/2017|2017-04-19};
	\node[tri] (nd2) at (552,203.6) {};
	\node[rlab, right=0.6pt of nd2] (tnd2) {A/Beijing/DSL02/2017|2017-04-22};
	\node[tri] (nd3) at (552,209.7) {};
	\node[rlab, right=0.6pt of nd3] (tnd3) {A/Beijing/DSL03/2017|2017-04-23};
	\node[tri] (nd4) at (552,215.8) {};
	\node[rlab, right=0.6pt of nd4] (tnd4) {A/Beijing/DSL04/2017|2017-04-24};
	\node[tri] (nd5) at (552,221.9) {};
	\node[rlab, right=0.6pt of nd5] (tnd5) {A/Beijing/DSL05/2017|2017-04-28};
	\node[tri] (nd6) at (552,228.0) {};
	\node[rlab, right=0.6pt of nd6] (tnd6) {A/Beijing/DSL06/2017|2017-04-29};
	\clade{nd04}{546}{nd5}{nd6}
	\clade{nd03}{541}{nd4}{nd04}
	\clade{nd02}{535}{nd3}{nd03}
	\clade{nd01}{527}{nd2}{nd02}
	\clade{nd0}{518}{nd1}{nd01}
	\coordinate (nds) at ([xshift=-8pt]nd0);
	\kids{rbr}{nd04}{nd5,nd6}
	\kids{rbr}{nd03}{nd4,nd04}
	\kids{rbr}{nd02}{nd3,nd03}
	\kids{rbr}{nd01}{nd2,nd02}
	\kids{rbr}{nd0}{nd1,nd01}
	\draw[rbr] (nds) -- (nd0);
	
	%NA arrows to boxes
	\coordinate (qnLQG1) at (480,17);
	\coordinate (qnLQG2) at (493,17);
	\draw[arr] (qnLQG1) -- (qnLQG2);
	\coordinate (qnYGS1) at (486,42);
	\coordinate (qnYGS2) at (498,42);
	\draw[arr] (qnYGS1) -- (qnYGS2);
	\coordinate (qnZJL1) at (480,94);
	\coordinate (qnZJL2) at (494,94);
	\draw[arr] (qnZJL1) -- (qnZJL2);
	\coordinate (qnDSL1) at (490,212);
	\coordinate (qnDSL2) at (504,212);
	\draw[arr] (qnDSL1) -- (qnDSL2);
	
	%NA scale bar
	\coordinate (nsb1) at (332,487);
	\coordinate (nsb2) at (346,487);
	\draw[sbar] (nsb1) -- (nsb2);
	\node[sclab] (nsbt) at (339,494) {0.002};
	
\end{tikzpicture}
\end{document}
